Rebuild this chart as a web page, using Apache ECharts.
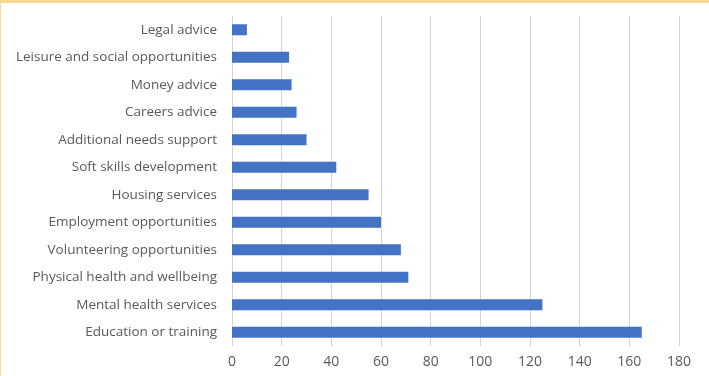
<!DOCTYPE html>
<html>
<head>
<meta charset="utf-8">
<script src="https://cdn.jsdelivr.net/npm/echarts@6/dist/echarts.min.js"></script>
<style>
  html, body { margin: 0; padding: 0; background: #fff; }
  #chart { width: 709px; height: 376px; }
</style>
</head>
<body>
<div id="chart"></div>
<script>
// categories listed top to bottom as in the picture
const categories = [
    'Legal advice',
    'Leisure and social opportunities',
    'Money advice',
    'Careers advice',
    'Additional needs support',
    'Soft skills development',
    'Housing services',
    'Employment opportunities',
    'Volunteering opportunities',
    'Physical health and wellbeing',
    'Mental health services',
    'Education or training'
];
const counts = [6, 23, 24, 26, 30, 42, 55, 60, 68, 71, 125, 165];

const chart = echarts.init(document.getElementById('chart'));
chart.setOption({
    animation: false,
    graphic: [
        { type: 'rect', left: 0, top: 0, shape: { width: 709, height: 3 }, style: { fill: '#FFD794' } },
        { type: 'rect', left: 0, top: 0, shape: { width: 1, height: 376 }, style: { fill: '#FFD794' } }
    ],
    grid: { left: 232, right: 30, top: 16, bottom: 30, containLabel: false },
    xAxis: {
        type: 'value',
        min: 0,
        max: 180,
        interval: 20,
        axisLine: { show: false },
        axisTick: { show: false },
        splitLine: { lineStyle: { color: '#d4d4d4', width: 1 } },
        axisLabel: { color: '#595959', fontSize: 14, fontFamily: 'Open Sans', margin: 9 }
    },
    yAxis: {
        type: 'category',
        data: categories,
        inverse: true,
        axisLine: { show: false },
        axisTick: { show: false },
        axisLabel: { color: '#595959', fontSize: 13.5, fontFamily: 'Open Sans', margin: 15 }
    },
    series: [{
        type: 'bar',
        data: counts,
        barWidth: 11,
        itemStyle: { color: '#4472C4' }
    }]
});
</script>
</body>
</html>
